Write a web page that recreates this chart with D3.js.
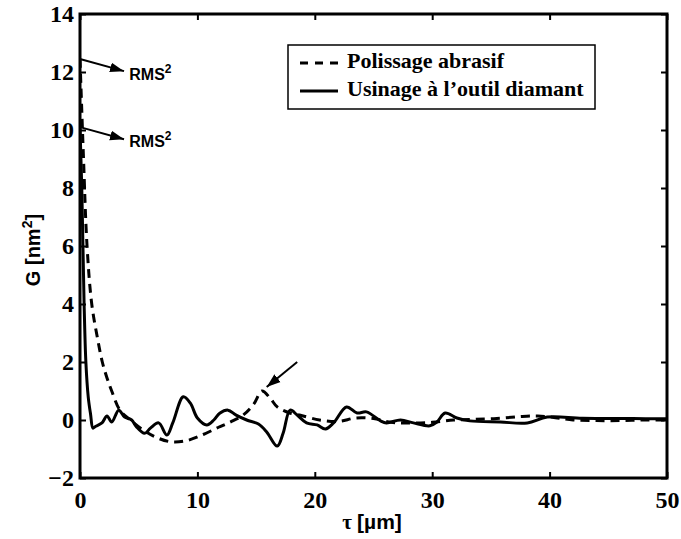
<!DOCTYPE html>
<html><head><meta charset="utf-8">
<script src="https://cdn.jsdelivr.net/npm/d3@7"></script>
<style>body{margin:0;background:#fff}</style>
</head><body><svg id="c" width="681" height="539"></svg>
<script>
const xTicks=[0,10,20,30,40,50];
const yTicks=[-2,0,2,4,6,8,10,12,14];
const seriesNames=["Polissage abrasif","Usinage à l’outil diamant"];
const tauDashed=[0,0.3,0.6,1.0,1.5,1.9,2.3,2.7,3.4,4.3,5.4,6.5,7.7,9.0,10.5,11.8,12.8,13.9,14.8,15.5,16.2,16.8,17.8,18.7,20.4,22.0,23.5,25.0,26.5,28.0,30.0,31.8,33.5,35.5,37.5,39.0,40.5,42,44,46,48,50];
const gDashed=[12.45,9.0,6.0,4.0,2.8,2.0,1.45,1.0,0.34,0.0,-0.35,-0.6,-0.75,-0.72,-0.5,-0.25,-0.07,0.17,0.55,1.0,0.75,0.45,0.25,0.17,0.0,-0.05,0.07,0.05,-0.08,-0.1,-0.08,0,0.02,0.05,0.12,0.14,0.08,0.0,-0.02,-0.02,0.0,0.0];
const tauSolid=[0,0.08,0.15,0.25,0.35,0.5,0.7,0.9,1.1,1.28,1.87,2.3,2.7,3.3,3.8,4.4,4.8,5.5,6.0,6.7,7.4,7.9,8.8,9.4,10.0,10.8,11.4,11.9,12.6,13.3,14.2,15.2,15.9,16.8,17.3,17.9,18.5,19.3,20.2,20.9,21.6,22.7,23.6,24.4,25.6,26.1,27.3,28.4,29.8,30.4,31.1,32.1,33.2,35.8,38.1,39.8,42.8,47.1,50];
const gSolid=[10.1,9.0,8.0,6.0,4.0,2.0,0.8,0.2,-0.28,-0.23,-0.1,0.14,-0.07,0.34,0.1,0,-0.23,-0.46,-0.28,-0.1,-0.52,-0.1,0.8,0.58,0.07,-0.17,0,0.23,0.34,0.17,0,-0.14,-0.41,-0.9,-0.46,0.34,0.17,-0.1,-0.17,-0.31,-0.1,0.45,0.24,0.28,-0.03,-0.1,0,-0.1,-0.2,-0.07,0.24,0.07,-0.03,-0.07,-0.1,0.1,0.06,0.05,0.04];
// annotations in data units: [x1,y1,x2,y2,labelX,labelY,label]
const arrows=[[0,12.45,3.75,12.03,4.2,11.72,"RMS"],[0,10.1,3.75,9.68,4.2,9.41,"RMS"],[18.5,2.0,15.9,1.14,null,null,null]];

const svg=d3.select("#c");
const m={l:80,r:667,t:14,b:478};
const x=d3.scaleLinear().domain([0,50]).range([m.l,m.r]);
const y=d3.scaleLinear().domain([-2,14]).range([m.b,m.t]);
const serif="'Liberation Serif','Times New Roman',serif";
const sans="'Liberation Sans',Arial,sans-serif";

const defs=svg.append("defs");
defs.append("clipPath").attr("id","clip").append("rect").attr("x",m.l).attr("y",m.t).attr("width",m.r-m.l).attr("height",m.b-m.t);
defs.append("marker").attr("id","ah").attr("viewBox","0 0 10 10").attr("refX",10).attr("refY",5)
 .attr("markerWidth",14).attr("markerHeight",14).attr("markerUnits","userSpaceOnUse").attr("orient","auto")
 .append("path").attr("d","M0,1.5L10,5L0,8.5Z").attr("fill","#000");

const line=d3.line().x(d=>x(d[0])).y(d=>y(d[1])).curve(d3.curveCatmullRom.alpha(0.5));
const g=svg.append("g").attr("clip-path","url(#clip)");
g.append("path").datum(tauDashed.map((t,i)=>[t,gDashed[i]])).attr("d",line)
 .attr("fill","none").attr("stroke","#000").attr("stroke-width",3).attr("stroke-dasharray","9,6");
g.append("path").datum(tauSolid.map((t,i)=>[t,gSolid[i]])).attr("d",line)
 .attr("fill","none").attr("stroke","#000").attr("stroke-width",3);

// axes
const tl=6;
const ax=svg.append("g").attr("transform",`translate(0,${m.b})`).call(d3.axisBottom(x).tickValues(xTicks).tickSize(-tl).tickPadding(12));
const axT=svg.append("g").attr("transform",`translate(0,${m.t})`).call(d3.axisTop(x).tickValues(xTicks).tickSize(-tl).tickFormat(""));
const ay=svg.append("g").attr("transform",`translate(${m.l},0)`).call(d3.axisLeft(y).tickValues(yTicks).tickSize(-tl).tickPadding(6).tickFormat(d=>d<0?"\u2212"+(-d):d));
const ayR=svg.append("g").attr("transform",`translate(${m.r},0)`).call(d3.axisRight(y).tickValues(yTicks).tickSize(-tl).tickFormat(""));
[ax,axT,ay,ayR].forEach(a=>{a.select(".domain").remove();a.selectAll("line").attr("stroke","#000").attr("stroke-width",2);
 a.selectAll("text").attr("font-family",serif).attr("font-weight","bold").attr("font-size",24).attr("fill","#000");});
ax.selectAll("text").attr("dy","0.75em");
svg.append("rect").attr("x",m.l).attr("y",m.t).attr("width",m.r-m.l).attr("height",m.b-m.t)
 .attr("fill","none").attr("stroke","#000").attr("stroke-width",3);

// axis titles
const xt=svg.append("text").attr("x",372).attr("y",529).attr("text-anchor","middle")
 .attr("font-weight","bold").attr("font-size",21).attr("fill","#000");
xt.append("tspan").attr("font-family",serif).text("τ ");
xt.append("tspan").attr("font-family",sans).text("[µm]");
const yt=svg.append("text").attr("transform",`translate(40,250) rotate(-90)`).attr("text-anchor","middle")
 .attr("font-family",sans).attr("font-weight","bold").attr("font-size",20).attr("fill","#000");
yt.append("tspan").text("G [nm");
yt.append("tspan").attr("dy",-8).attr("font-size",14).text("2");
yt.append("tspan").attr("dy",8).text("]");

// annotations
arrows.forEach(a=>{
 svg.append("line").attr("x1",x(a[0])).attr("y1",y(a[1])).attr("x2",x(a[2])).attr("y2",y(a[3]))
  .attr("stroke","#000").attr("stroke-width",2).attr("marker-end","url(#ah)");
 if(a[6]){
  const t=svg.append("text").attr("x",x(a[4])).attr("y",y(a[5])).attr("font-family",sans).attr("font-weight","bold").attr("font-size",16).attr("fill","#000");
  t.append("tspan").text(a[6]);
  t.append("tspan").attr("dy",-7).attr("font-size",12).text("2");
 }
});

// legend
const lg=svg.append("g");
lg.append("rect").attr("x",288).attr("y",45).attr("width",307).attr("height",64).attr("fill","#fff").attr("stroke","#000").attr("stroke-width",1.5);
const styles=[{dash:"8,7"},{dash:null}];
seriesNames.forEach((n,i)=>{
 const yy=63+i*28;
 const l=lg.append("line").attr("x1",300).attr("x2",338).attr("y1",yy).attr("y2",yy).attr("stroke","#000").attr("stroke-width",3);
 if(styles[i].dash) l.attr("stroke-dasharray",styles[i].dash);
 lg.append("text").attr("x",347).attr("y",yy+5).attr("font-family",serif).attr("font-weight","bold").attr("font-size",22).attr("fill","#000").text(n);
});
</script></body></html>
